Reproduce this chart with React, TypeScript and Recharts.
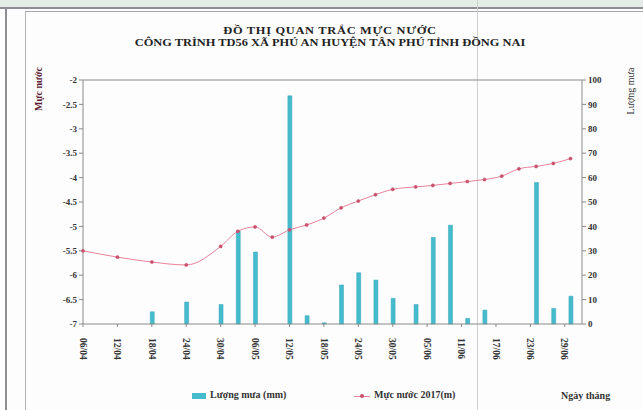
import { ComposedChart, Bar, Line, XAxis, YAxis, ReferenceLine } from 'recharts'

// ngày đo (dd/mm, năm 2017)
const dates = [
  '06/04', '12/04', '18/04', '24/04', '30/04', '03/05', '06/05', '09/05', '12/05', '15/05',
  '18/05', '21/05', '24/05', '27/05', '30/05', '03/06', '06/06', '09/06', '12/06', '15/06',
  '18/06', '21/06', '24/06', '27/06', '30/06',
]
// mực nước 2017 (m)
const mucNuoc = [
  -5.5, -5.63, -5.73, -5.79, -5.41, -5.1, -5.01, -5.22, -5.07, -4.97,
  -4.83, -4.62, -4.48, -4.35, -4.24, -4.19, -4.16, -4.12, -4.08, -4.04,
  -3.97, -3.82, -3.77, -3.71, -3.61,
]
// lượng mưa (mm)
const luongMua = [
  0, 0, 5, 9, 8, 38, 29.5, 0, 93.5, 3.4,
  0.5, 16, 21, 18, 10.5, 8, 35.5, 40.5, 2.3, 5.7,
  0, 0, 58, 6.4, 11.4,
]
const levelTicks = [-7, -6.5, -6, -5.5, -5, -4.5, -4, -3.5, -3, -2.5, -2]
const rainTicks = [0, 10, 20, 30, 40, 50, 60, 70, 80, 90, 100]
const dayTicks = [0, 6, 12, 18, 24, 30, 36, 42, 48, 54, 60, 66, 72, 78, 84]

const START = new Date(2017, 3, 6)
const DAY = 86400000

function toDay(s: string) {
  const [d, m] = s.split('/').map(Number)
  return Math.round((new Date(2017, m - 1, d).getTime() - START.getTime()) / DAY)
}
function fmtDay(n: number) {
  const dt = new Date(START.getTime() + n * DAY)
  const dd = String(dt.getDate()).padStart(2, '0')
  const mm = String(dt.getMonth() + 1).padStart(2, '0')
  return `${dd}/${mm}`
}

const data = dates.map((d, i) => ({ day: toDay(d), level: mucNuoc[i], rain: luongMua[i] }))

const FONT = '"Liberation Serif", "Times New Roman", serif'
const AXIS = '#8a8a8a'
const BAR = '#45bccd'
const LINE = '#e8829c'

function DateTick({ x, y, payload }: any) {
  return (
    <text
      x={x}
      y={y + 9}
      transform={`rotate(90 ${x} ${y + 9})`}
      dy="0.35em"
      textAnchor="start"
      fontFamily={FONT}
      fontWeight="bold"
      fontSize={9.5}
      fill="#333"
    >
      {fmtDay(payload.value)}
    </text>
  )
}

export default function App() {
  const tickStyle = { fontFamily: FONT, fontWeight: 'bold', fontSize: 9, fill: '#333' }
  return (
    <div style={{ position: 'fixed', left: 0, top: 0, width: 643, height: 410, background: '#fdfdfd', overflow: 'hidden', fontFamily: FONT }}>
      {/* khung giấy scan */}
      <div style={{ position: 'absolute', left: 0, top: 0, width: 643, height: 7, background: '#e4ece8' }} />
      <div style={{ position: 'absolute', left: 0, top: 7, width: 643, height: 2, background: '#8d8d93' }} />
      <div style={{ position: 'absolute', left: 25, top: 11, width: 618, height: 1, background: '#a9a3ae' }} />
      <div style={{ position: 'absolute', left: 5, top: 7, width: 2, height: 403, background: '#8d8d93' }} />
      <div style={{ position: 'absolute', left: 25, top: 11, width: 1, height: 399, background: '#b3b3b3' }} />
      <div style={{ position: 'absolute', left: 477, top: 0, width: 1, height: 410, background: '#d0d0d0' }} />

      <div style={{ position: 'absolute', left: 0, top: 25, width: 660, textAlign: 'center', fontWeight: 'bold', fontSize: 10.5, lineHeight: '12px', color: '#222', transform: 'scaleX(1.18)', transformOrigin: '330px 0' }}>
        <span style={{ letterSpacing: 0.6 }}>ĐỒ THỊ QUAN TRẮC MỰC NƯỚC</span>
        <br />
        CÔNG TRÌNH TD56 XÃ PHÚ AN HUYỆN TÂN PHÚ TỈNH ĐỒNG NAI
      </div>

      <div style={{ position: 'absolute', left: 38, top: 89, transform: 'translate(-50%, -50%) rotate(-90deg)', fontSize: 10, fontWeight: 'bold', color: '#5a2030', whiteSpace: 'nowrap' }}>
        Mực nước
      </div>
      <div style={{ position: 'absolute', left: 630, top: 91, transform: 'translate(-50%, -50%) rotate(-90deg)', fontSize: 10, color: '#333', whiteSpace: 'nowrap' }}>
        Lượng mưa
      </div>

      <div style={{ position: 'absolute', left: 0, top: 0 }}>
        <ComposedChart width={643} height={410} data={data} margin={{ top: 80, right: 0, bottom: 0, left: 0 }}>
          <XAxis
            dataKey="day"
            type="number"
            domain={[0, 87]}
            ticks={dayTicks}
            interval={0}
            height={86}
            stroke={AXIS}
            tickSize={3}
            tick={<DateTick />}
          />
          <YAxis
            yAxisId="lvl"
            domain={[-7, -2]}
            ticks={levelTicks}
            interval={0}
            width={83}
            stroke={AXIS}
            tickSize={4}
            tick={tickStyle}
          />
          <YAxis
            yAxisId="rain"
            orientation="right"
            domain={[0, 100]}
            ticks={rainTicks}
            interval={0}
            width={61}
            stroke={AXIS}
            tickSize={4}
            tick={{ ...tickStyle, textAnchor: 'start' }}
          />
          <ReferenceLine yAxisId="lvl" y={-2} stroke={AXIS} />
          <Bar yAxisId="rain" dataKey="rain" fill={BAR} stroke="#34a5b8" strokeWidth={0.5} barSize={4} isAnimationActive={false} />
          <Line
            yAxisId="lvl"
            dataKey="level"
            type="monotone"
            stroke={LINE}
            strokeWidth={1}
            dot={{ r: 1.6, fill: '#c8506c', stroke: '#c8506c', strokeWidth: 0.5 }}
            isAnimationActive={false}
          />
        </ComposedChart>
      </div>

      {/* chú giải */}
      <div style={{ position: 'absolute', left: 192, top: 393, width: 14, height: 6, background: BAR }} />
      <div style={{ position: 'absolute', left: 210, top: 389, fontSize: 10, fontWeight: 'bold', color: '#333', whiteSpace: 'nowrap' }}>Lượng mưa (mm)</div>
      <div style={{ position: 'absolute', left: 354, top: 396, width: 16, height: 1, background: LINE }} />
      <div style={{ position: 'absolute', left: 360, top: 394, width: 4, height: 4, borderRadius: 2, background: '#c8506c' }} />
      <div style={{ position: 'absolute', left: 374, top: 389, fontSize: 10, fontWeight: 'bold', color: '#333', whiteSpace: 'nowrap' }}>Mực nước 2017(m)</div>
      <div style={{ position: 'absolute', left: 561, top: 390, fontSize: 10, fontWeight: 'bold', color: '#333', whiteSpace: 'nowrap' }}>Ngày tháng</div>
    </div>
  )
}
